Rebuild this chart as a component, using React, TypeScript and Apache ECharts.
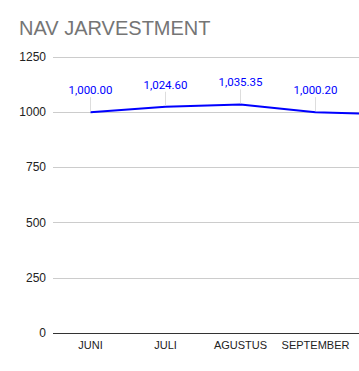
import React, { useEffect, useRef } from "react";
import * as echarts from "echarts";

const categories = ["JUNI", "JULI", "AGUSTUS", "SEPTEMBER", "OKTOBER"];
const navValues = [1000, 1024.6, 1035.35, 1000.2, 990];
const yTicks = { min: 0, max: 1250, interval: 250 };
// the reference image is cropped: only the first four categories' texts are visible
const visibleCount = 4;

const fmt = (v: number) =>
  v.toLocaleString("en-US", { minimumFractionDigits: 2, maximumFractionDigits: 2 });

export default function App() {
  const ref = useRef<HTMLDivElement>(null);
  useEffect(() => {
    if (!ref.current) return;
    const chart = echarts.init(ref.current, null, { renderer: "svg" });
    chart.setOption({
      animation: false,
      backgroundColor: "#ffffff",
      title: {
        text: "NAV JARVESTMENT",
        left: 14,
        top: 13,
        textStyle: {
          fontFamily: "Liberation Sans, Arial, sans-serif",
          fontSize: 20,
          fontWeight: "normal",
          color: "#757575",
        },
      },
      grid: { left: 53, top: 57, right: 0, bottom: 38, containLabel: false },
      xAxis: {
        type: "category",
        data: categories,
        boundaryGap: true,
        axisLine: { show: false },
        axisTick: { show: false },
        axisLabel: {
          margin: 6,
          color: "#222222",
          fontFamily: "Liberation Sans, Arial, sans-serif",
          fontSize: 11,
          interval: 0,
          formatter: (v: string, i: number) => (i < visibleCount ? v : ""),
        },
        splitLine: { show: false },
      },
      yAxis: {
        type: "value",
        min: yTicks.min,
        max: yTicks.max,
        interval: yTicks.interval,
        axisLine: { show: false },
        axisTick: { show: false },
        axisLabel: {
          margin: 7,
          color: "#222222",
          fontFamily: "Liberation Sans, Arial, sans-serif",
          fontSize: 12,
          formatter: (v: number) => String(v),
        },
        splitLine: {
          show: true,
          lineStyle: {
            color: ["#333333", "#cccccc", "#cccccc", "#cccccc", "#cccccc", "#cccccc"],
            width: 1,
          },
        },
      },
      series: [
        {
          type: "line",
          data: navValues,
          showSymbol: false,
          symbol: "none",
          lineStyle: { color: "#0000ff", width: 2 },
          itemStyle: { color: "#0000ff" },
          z: 3,
        },
        {
          type: "custom",
          data: navValues.map((v, i) => [i, v]),
          z: 4,
          clip: false,
          renderItem: (params: any, api: any) => {
            const idx = api.value(0);
            const v = api.value(1);
            const p = api.coord([idx, v]);
            if (params.dataIndex >= visibleCount) return { type: "group", children: [] };
            return {
              type: "group",
              children: [
                {
                  type: "line",
                  shape: { x1: p[0], y1: p[1] - 1, x2: p[0], y2: p[1] - 15 },
                  style: { stroke: "#dddddd", lineWidth: 1 },
                  z2: 0,
                },
                {
                  type: "text",
                  x: p[0],
                  y: p[1] - 22,
                  style: {
                    text: fmt(v),
                    fill: "#0000ff",
                    font: "11.5px Roboto, sans-serif",
                    align: "center",
                    verticalAlign: "middle",
                  },
                },
              ],
            };
          },
        },
      ],
    });
    return () => chart.dispose();
  }, []);
  return (
    <div
      style={{
        position: "absolute",
        left: 0,
        top: 0,
        width: 359,
        height: 371,
        overflow: "hidden",
        background: "#ffffff",
      }}
    >
      <div ref={ref} style={{ width: 428, height: 371 }} />
    </div>
  );
}
